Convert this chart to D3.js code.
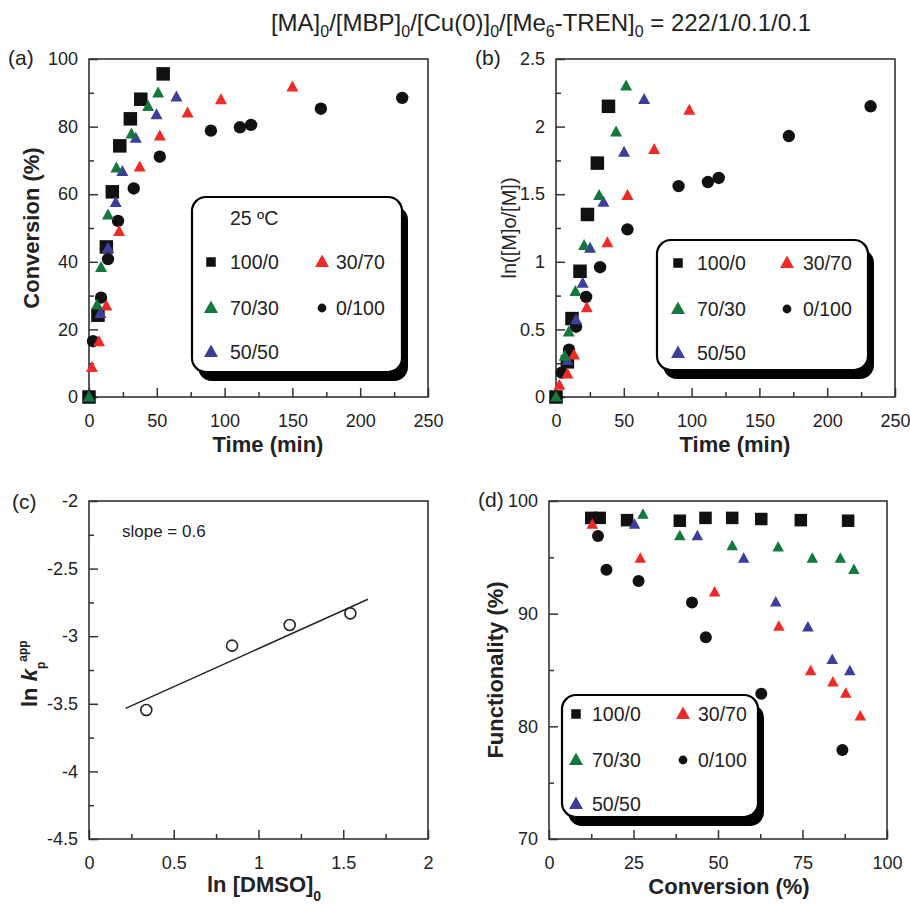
<!DOCTYPE html>
<html><head><meta charset="utf-8">
<script src="https://cdn.jsdelivr.net/npm/d3@7"></script>
<style>
body{margin:0;background:#fff}
text{font-family:"Liberation Sans",Arial,Helvetica,sans-serif;fill:#222}
</style>
</head><body>
<svg id="chart" width="910" height="905"></svg>
<script>
// ---------- series meta ----------
const seriesNames  = ["100/0","70/30","50/50","30/70","0/100"];
const seriesColors = ["#111111","#13783c","#3d3d9c","#ee2b27","#111111"];
const seriesShapes = ["square","triangle","triangle","triangle","circle"];

// ---------- panel (a): conversion vs time ----------
const aTime100_0 = [0,6.6,12.8,17.2,22.7,30.5,38.2,54.7];
const aConv100_0 = [0,24.2,44.4,60.7,74.3,82.3,88.1,95.6];
const aTime70_30 = [0,5.9,8.9,14,20.2,31.3,43.6,51];
const aConv70_30 = [0,27.2,38.3,53.8,67.7,77.8,85.9,89.9];
const aTime50_50 = [0,8.4,14,19.7,24.6,34.5,49.8,64.5];
const aConv50_50 = [0,24.7,44,57.5,66.7,76.5,83.5,88.7];
const aTime30_70 = [2.2,7.4,12.8,22.2,37.4,52.2,72.7,97.3,150];
const aConv30_70 = [8.7,16.3,26.9,48.9,68,77.2,84,87.9,91.7];
const aTime0_100 = [3,8.9,14,21.4,33,52.2,89.9,111.3,119.5,171,231];
const aConv0_100 = [16.5,29.4,40.8,52.1,61.7,71.1,78.8,79.8,80.5,85.3,88.5];

// ---------- panel (b): ln([M]0/[M]) vs time ----------
const bTime100_0 = [0,8.4,11.8,17.7,23.2,30.5,38.7];
const bLn100_0   = [0,0.26,0.58,0.93,1.35,1.73,2.15];
const bTime70_30 = [0,6.4,9.4,14.3,20.7,31.8,44.3,51.7];
const bLn70_30   = [0,0.30,0.48,0.78,1.12,1.49,1.96,2.30];
const bTime50_50 = [8.4,14.8,19.7,25.1,35,50.2,65];
const bLn50_50   = [0.27,0.57,0.84,1.10,1.44,1.81,2.20];
const bTime30_70 = [2.5,8.4,13.3,22.7,37.9,52.7,72.4,98.3];
const bLn30_70   = [0.086,0.17,0.31,0.66,1.14,1.49,1.83,2.12];
const bTime0_100 = [4.2,9.6,14.8,22.2,32.5,52.7,90.4,112,120,171.7,232];
const bLn0_100   = [0.18,0.35,0.52,0.74,0.96,1.24,1.56,1.59,1.62,1.93,2.15];

// ---------- panel (c): ln kp_app vs ln [DMSO]0 ----------
const cLnDMSO = [0.338,0.844,1.184,1.542];
const cLnKp   = [-3.546,-3.07,-2.917,-2.831];
const cFitX   = [0.216,1.646];
const cFitY   = [-3.534,-2.727];

// ---------- panel (d): functionality vs conversion ----------
const dConv100_0 = [12.5,15,23.1,38.7,46.3,54.2,62.8,74.5,88.5];
const dFunc100_0 = [98.5,98.5,98.3,98.25,98.5,98.5,98.4,98.3,98.25];
const dConv70_30 = [27.8,38.7,54.2,67.8,77.9,86.2,90.2];
const dFunc70_30 = [98.8,96.9,96,95.9,94.9,94.9,93.9];
const dConv50_50 = [25.3,43.9,57.6,67.1,76.6,83.8,89];
const dFunc50_50 = [97.9,96.9,94.9,91,88.8,85.9,84.9];
const dConv30_70 = [12.8,27,49,68,77.4,84,87.8,92.1];
const dFunc30_70 = [97.9,94.9,91.9,88.85,84.9,83.9,82.9,80.9];
const dConv0_100 = [14.5,17,26.5,42.3,46.4,62.8,86.8];
const dFunc0_100 = [96.9,93.9,92.9,91,87.9,82.9,77.9];

// ---------- ticks ----------
const timeMajor = [0,50,100,150,200,250], timeMinor = [25,75,125,175,225];
const convMajorA = [0,20,40,60,80,100], convMinorA = [10,30,50,70,90];
const lnMajorB = [0,0.5,1,1.5,2,2.5], lnMinorB = [0.25,0.75,1.25,1.75,2.25];
const dmsoMajor = [0,0.5,1,1.5,2], dmsoMinor = [0.25,0.75,1.25,1.75];
const kpMajor = [-2,-2.5,-3,-3.5,-4,-4.5], kpMinor = [-2.25,-2.75,-3.25,-3.75,-4.25];
const convMajorD = [0,25,50,75,100], convMinorD = [12.5,37.5,62.5,87.5];
const funcMajor = [70,80,90,100], funcMinor = [75,85,95];

const svg = d3.select("#chart");
const FRAME = "#333";

function panel(o){
  const x = d3.scaleLinear().domain(o.xdom).range([o.L,o.R]);
  const y = d3.scaleLinear().domain(o.ydom).range([o.B,o.T]);
  const g = svg.append("g");
  const fmt = d => String(d);
  const ax = (gen, vals, size, pad, lab) => gen.tickValues(vals).tickSize(size).tickPadding(pad).tickFormat(lab?fmt:"");
  const gx = g.append("g").attr("transform",`translate(0,${o.B})`);
  gx.call(ax(d3.axisBottom(x), o.xMajor, -9, 17, true));
  const gx2 = g.append("g").attr("transform",`translate(0,${o.B})`);
  gx2.call(ax(d3.axisBottom(x), o.xMinor, -5, 17, false));
  const gy = g.append("g").attr("transform",`translate(${o.L},0)`);
  gy.call(ax(d3.axisLeft(y), o.yMajor, -9, 11, true));
  const gy2 = g.append("g").attr("transform",`translate(${o.L},0)`);
  gy2.call(ax(d3.axisLeft(y), o.yMinor, -5, 11, false));
  g.selectAll(".domain").remove();
  g.selectAll(".tick line").attr("stroke",FRAME).attr("stroke-width",1.5);
  g.selectAll(".tick text").attr("font-size",18).attr("fill","#222")
   .style("font-family",'"Liberation Sans",Arial,sans-serif');
  g.append("rect").attr("x",o.L).attr("y",o.T).attr("width",o.R-o.L).attr("height",o.B-o.T)
   .attr("fill","none").attr("stroke",FRAME).attr("stroke-width",1.6);
  return {x,y,g};
}

function marker(sel, shape, color, sz){
  if(shape==="square"){
    sel.append("rect").attr("x",-sz.sq/2).attr("y",-sz.sq/2).attr("width",sz.sq).attr("height",sz.sq).attr("fill",color);
  } else if(shape==="circle"){
    sel.append("circle").attr("r",sz.r).attr("fill",color);
  } else {
    const w=sz.tw,h=sz.th;
    sel.append("path").attr("d",`M0,${-h*0.6}L${w/2},${h*0.4}L${-w/2},${h*0.4}Z`).attr("fill",color);
  }
}

function scatter(p, xs, ys, si, sz){
  const pts = d3.zip(xs,ys);
  p.g.append("g").selectAll("g").data(pts).join("g")
    .attr("transform",d=>`translate(${p.x(d[0])},${p.y(d[1])})`)
    .each(function(){ marker(d3.select(this), seriesShapes[si], seriesColors[si], sz); });
}

function legend(b, sz){
  const g = svg.append("g");
  g.append("rect").attr("x",b.x+6).attr("y",b.y+9).attr("width",b.w).attr("height",b.h)
   .attr("rx",14).attr("fill","#000");
  g.append("rect").attr("x",b.x).attr("y",b.y).attr("width",b.w).attr("height",b.h)
   .attr("rx",14).attr("fill","#fff").attr("stroke","#000").attr("stroke-width",2.2);
  if(b.header){
    g.append("text").attr("x",b.header[0]).attr("y",b.header[1]+7).attr("font-size",19.5).text("25 ºC");
  }
  const order = [[0,0,0],[1,0,1],[2,0,2],[3,1,0],[4,1,1]];
  order.forEach(([si,col,row])=>{
    const mx = b.cols[col], ty = b.rows[row];
    const m = g.append("g").attr("transform",`translate(${mx},${ty})`);
    marker(m, seriesShapes[si], seriesColors[si], sz);
    g.append("text").attr("x",b.tcols[col]).attr("y",ty+7).attr("font-size",19.5).text(seriesNames[si]);
  });
}

const bigSz = {sq:13.5, r:6.2, tw:12, th:11};
const dSz = {sq:12.5, r:6, tw:11.5, th:10.5};
const legSz = {sq:9.5, r:4.4, tw:14, th:12.5};

// ----- panel a -----
const pa = panel({L:89,R:428,T:59,B:397,xdom:[0,250],ydom:[0,100],
  xMajor:timeMajor,xMinor:timeMinor,yMajor:convMajorA,yMinor:convMinorA});
scatter(pa,aTime100_0,aConv100_0,0,bigSz);
scatter(pa,aTime0_100,aConv0_100,4,bigSz);
scatter(pa,aTime30_70,aConv30_70,3,bigSz);
scatter(pa,aTime50_50,aConv50_50,2,bigSz);
scatter(pa,aTime70_30,aConv70_30,1,bigSz);
legend({x:192,y:197,w:210,h:175,header:[230,218],cols:[211,322],tcols:[230,336],rows:[262,308,352]},legSz);

// ----- panel b -----
const pb = panel({L:556,R:895,T:59,B:397,xdom:[0,250],ydom:[0,2.5],
  xMajor:timeMajor,xMinor:timeMinor,yMajor:lnMajorB,yMinor:lnMinorB});
scatter(pb,bTime100_0,bLn100_0,0,bigSz);
scatter(pb,bTime0_100,bLn0_100,4,bigSz);
scatter(pb,bTime30_70,bLn30_70,3,bigSz);
scatter(pb,bTime50_50,bLn50_50,2,bigSz);
scatter(pb,bTime70_30,bLn70_30,1,bigSz);
legend({x:657,y:240,w:211,h:130,cols:[678,787],tcols:[697,803],rows:[263,309,353]},legSz);

// ----- panel c -----
const pc = panel({L:89,R:428,T:501,B:839,xdom:[0,2],ydom:[-4.5,-2],
  xMajor:dmsoMajor,xMinor:dmsoMinor,yMajor:kpMajor,yMinor:kpMinor});
pc.g.append("path").datum(d3.zip(cFitX,cFitY))
  .attr("d",d3.line().x(d=>pc.x(d[0])).y(d=>pc.y(d[1])))
  .attr("fill","none").attr("stroke","#222").attr("stroke-width",1.5);
pc.g.append("g").selectAll("circle").data(d3.zip(cLnDMSO,cLnKp)).join("circle")
  .attr("cx",d=>pc.x(d[0])).attr("cy",d=>pc.y(d[1])).attr("r",5.5)
  .attr("fill","#fff").attr("stroke","#222").attr("stroke-width",1.6);
svg.append("text").attr("x",122).attr("y",537).attr("font-size",17).text("slope = 0.6");

// ----- panel d -----
const pd = panel({L:549,R:887,T:501,B:839,xdom:[0,100],ydom:[70,100],
  xMajor:convMajorD,xMinor:convMinorD,yMajor:funcMajor,yMinor:funcMinor});
scatter(pd,dConv100_0,dFunc100_0,0,dSz);
scatter(pd,dConv0_100,dFunc0_100,4,dSz);
scatter(pd,dConv30_70,dFunc30_70,3,dSz);
scatter(pd,dConv50_50,dFunc50_50,2,dSz);
scatter(pd,dConv70_30,dFunc70_30,1,dSz);
legend({x:562,y:695,w:196,h:122,cols:[576,683],tcols:[592,698],rows:[714,760,804]},legSz);

// ----- titles & labels -----
const title = svg.append("text").attr("x",541).attr("y",31).attr("text-anchor","middle").attr("font-size",24);
[["[MA]",0],["0",1],["/[MBP]",0],["0",1],["/[Cu(0)]",0],["0",1],["/[Me",0],["6",1],["-TREN]",0],["0",1],[" = 222/1/0.1/0.1",0]]
 .forEach(([t,sub],i,arr)=>{
   const prevSub = i>0 ? arr[i-1][1] : 0;
   const ts = title.append("tspan").text(t);
   if(sub){ ts.attr("font-size",16).attr("dy",prevSub?0:6); }
   else if(prevSub){ ts.attr("dy",-6); }
 });

const lab = (x,y,t)=>svg.append("text").attr("x",x).attr("y",y).attr("font-size",21).text(t);
lab(8,65,"(a)"); lab(475,65,"(b)"); lab(12,509,"(c)"); lab(478,507,"(d)");

const bold = (x,y,t,anchor="middle")=>svg.append("text").attr("x",x).attr("y",y).attr("text-anchor",anchor)
  .attr("font-size",22).attr("font-weight","bold").text(t);
bold(268,452,"Time (min)");
bold(735,452,"Time (min)");
bold(729,894,"Conversion (%)");
const dm = bold(207,892,"ln [DMSO]","start");
dm.append("tspan").attr("font-size",14).attr("dy",9).text("0");

const rot = (x,y,t,weight,size)=>svg.append("text").attr("transform",`translate(${x},${y}) rotate(-90)`)
  .attr("text-anchor","middle").attr("font-size",size).attr("font-weight",weight).text(t);
rot(39,228,"Conversion (%)","bold",22);
rot(516,228,"ln([M]o/[M])","normal",20);
rot(503,670,"Functionality (%)","bold",22);
const kp = svg.append("text").attr("transform","translate(37,707) rotate(-90)").attr("font-size",22).attr("font-weight","bold");
kp.append("tspan").text("ln ");
kp.append("tspan").attr("font-style","italic").text("k");
kp.append("tspan").attr("font-size",12).attr("dy",8).text("p");
kp.append("tspan").attr("font-size",12).attr("dy",-18).text("app");
</script>
</body></html>
